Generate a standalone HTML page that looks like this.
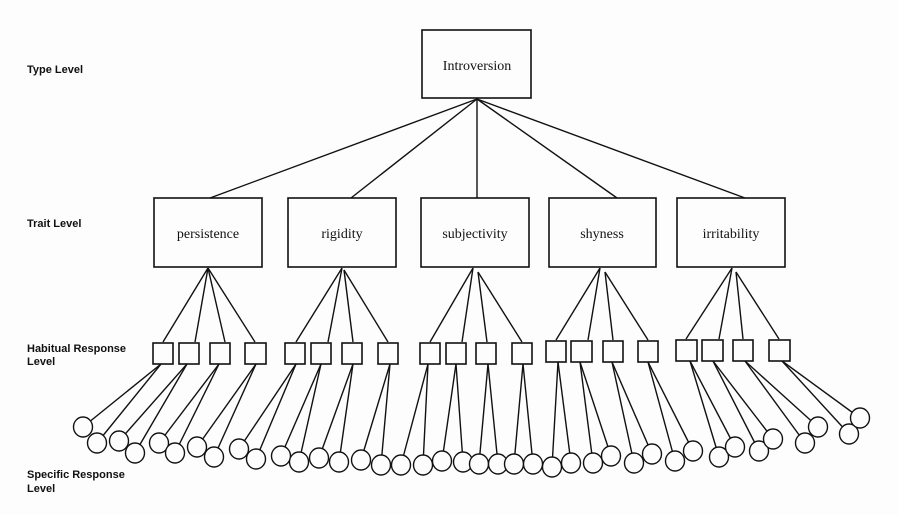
<!DOCTYPE html>
<html><head><style>
html,body{margin:0;padding:0;background:#fdfdfd;}
svg{display:block;}
.lb{font-family:"Liberation Sans",Arial,sans-serif;font-weight:bold;font-size:11px;fill:#111;}
.bx{font-family:"Liberation Serif","Times New Roman",serif;font-size:14px;fill:#111;}
</style></head><body>
<svg width="898" height="515" viewBox="0 0 898 515" xmlns="http://www.w3.org/2000/svg">
<rect width="898" height="515" fill="#fdfdfd"/>
<g class="lb">
<text x="27" y="73">Type Level</text>
<text x="27" y="227">Trait Level</text>
<text x="27" y="352">Habitual Response</text>
<text x="27" y="365">Level</text>
<text x="27" y="478">Specific Response</text>
<text x="27" y="492">Level</text>
</g>
<g stroke="#111" stroke-width="1.4" fill="none">
<line x1="477" y1="99" x2="210" y2="198"/>
<line x1="477" y1="99" x2="351" y2="198"/>
<line x1="477" y1="99" x2="477" y2="198"/>
<line x1="477" y1="99" x2="617" y2="198"/>
<line x1="477" y1="99" x2="745" y2="198"/>
<!-- trait to squares -->
<line x1="208" y1="268" x2="163" y2="342"/><line x1="208" y1="268" x2="195" y2="342"/><line x1="208" y1="268" x2="225" y2="342"/><line x1="208" y1="268" x2="255" y2="342"/>
<line x1="342" y1="268" x2="296" y2="342"/><line x1="342" y1="268" x2="328" y2="342"/><line x1="344" y1="270" x2="353" y2="342"/><line x1="344" y1="270" x2="388" y2="342"/>
<line x1="473" y1="268" x2="430" y2="342"/><line x1="473" y1="268" x2="462" y2="342"/><line x1="478" y1="272" x2="487" y2="342"/><line x1="478" y1="272" x2="522" y2="342"/>
<line x1="600" y1="268" x2="556" y2="340"/><line x1="600" y1="268" x2="588" y2="340"/><line x1="605" y1="272" x2="613" y2="340"/><line x1="605" y1="272" x2="648" y2="340"/>
<line x1="732" y1="268" x2="686" y2="339"/><line x1="732" y1="268" x2="719" y2="339"/><line x1="736" y1="272" x2="743" y2="339"/><line x1="736" y1="272" x2="779" y2="339"/>
<!-- squares to circles -->
<line x1="161" y1="364" x2="83" y2="427"/><line x1="161" y1="364" x2="97" y2="443"/>
<line x1="187" y1="364" x2="119" y2="441"/><line x1="187" y1="364" x2="135" y2="453"/>
<line x1="219" y1="364" x2="159" y2="443"/><line x1="219" y1="364" x2="175" y2="453"/>
<line x1="256" y1="364" x2="197" y2="447"/><line x1="256" y1="364" x2="214" y2="457"/>
<line x1="296" y1="364" x2="239" y2="449"/><line x1="296" y1="364" x2="256" y2="459"/>
<line x1="321" y1="364" x2="281" y2="456"/><line x1="321" y1="364" x2="299" y2="462"/>
<line x1="353" y1="364" x2="319" y2="458"/><line x1="353" y1="364" x2="339" y2="462"/>
<line x1="390" y1="364" x2="361" y2="460"/><line x1="390" y1="364" x2="381" y2="465"/>
<line x1="428" y1="364" x2="401" y2="465"/><line x1="428" y1="364" x2="423" y2="465"/>
<line x1="456" y1="364" x2="442" y2="461"/><line x1="456" y1="364" x2="463" y2="462"/>
<line x1="488" y1="364" x2="479" y2="464"/><line x1="488" y1="364" x2="498" y2="464"/>
<line x1="523" y1="364" x2="514" y2="464"/><line x1="523" y1="364" x2="533" y2="464"/>
<line x1="558" y1="362" x2="552" y2="467"/><line x1="558" y1="362" x2="571" y2="463"/>
<line x1="580" y1="362" x2="593" y2="463"/><line x1="580" y1="362" x2="611" y2="456"/>
<line x1="612" y1="362" x2="634" y2="463"/><line x1="612" y1="362" x2="652" y2="454"/>
<line x1="648" y1="362" x2="675" y2="461"/><line x1="648" y1="362" x2="693" y2="451"/>
<line x1="690" y1="361" x2="719" y2="457"/><line x1="690" y1="361" x2="735" y2="447"/>
<line x1="713" y1="361" x2="759" y2="451"/><line x1="713" y1="361" x2="773" y2="439"/>
<line x1="745" y1="361" x2="805" y2="443"/><line x1="745" y1="361" x2="818" y2="427"/>
<line x1="782" y1="361" x2="849" y2="434"/><line x1="782" y1="361" x2="860" y2="418"/>
</g>
<g stroke="#111" stroke-width="1.6" fill="#fdfdfd">
<rect x="422" y="30" width="109" height="68"/>
<rect x="154" y="198" width="108" height="69"/>
<rect x="288" y="198" width="108" height="69"/>
<rect x="421" y="198" width="108" height="69"/>
<rect x="549" y="198" width="107" height="69"/>
<rect x="677" y="198" width="108" height="69"/>
<rect x="153" y="343" width="20" height="21"/><rect x="179" y="343" width="20" height="21"/><rect x="210" y="343" width="20" height="21"/><rect x="245" y="343" width="21" height="21"/>
<rect x="285" y="343" width="20" height="21"/><rect x="311" y="343" width="20" height="21"/><rect x="342" y="343" width="20" height="21"/><rect x="378" y="343" width="20" height="21"/>
<rect x="420" y="343" width="20" height="21"/><rect x="446" y="343" width="20" height="21"/><rect x="476" y="343" width="20" height="21"/><rect x="512" y="343" width="20" height="21"/>
<rect x="546" y="341" width="20" height="21"/><rect x="571" y="341" width="21" height="21"/><rect x="603" y="341" width="20" height="21"/><rect x="638" y="341" width="20" height="21"/>
<rect x="676" y="340" width="21" height="21"/><rect x="702" y="340" width="21" height="21"/><rect x="733" y="340" width="20" height="21"/><rect x="769" y="340" width="21" height="21"/>
</g>
<g stroke="#111" stroke-width="1.4" fill="#fdfdfd">
<ellipse cx="83" cy="427" rx="9.5" ry="10"/><ellipse cx="97" cy="443" rx="9.5" ry="10"/>
<ellipse cx="119" cy="441" rx="9.5" ry="10"/><ellipse cx="135" cy="453" rx="9.5" ry="10"/>
<ellipse cx="159" cy="443" rx="9.5" ry="10"/><ellipse cx="175" cy="453" rx="9.5" ry="10"/>
<ellipse cx="197" cy="447" rx="9.5" ry="10"/><ellipse cx="214" cy="457" rx="9.5" ry="10"/>
<ellipse cx="239" cy="449" rx="9.5" ry="10"/><ellipse cx="256" cy="459" rx="9.5" ry="10"/>
<ellipse cx="281" cy="456" rx="9.5" ry="10"/><ellipse cx="299" cy="462" rx="9.5" ry="10"/>
<ellipse cx="319" cy="458" rx="9.5" ry="10"/><ellipse cx="339" cy="462" rx="9.5" ry="10"/>
<ellipse cx="361" cy="460" rx="9.5" ry="10"/><ellipse cx="381" cy="465" rx="9.5" ry="10"/>
<ellipse cx="401" cy="465" rx="9.5" ry="10"/><ellipse cx="423" cy="465" rx="9.5" ry="10"/>
<ellipse cx="442" cy="461" rx="9.5" ry="10"/><ellipse cx="463" cy="462" rx="9.5" ry="10"/>
<ellipse cx="479" cy="464" rx="9.5" ry="10"/><ellipse cx="498" cy="464" rx="9.5" ry="10"/>
<ellipse cx="514" cy="464" rx="9.5" ry="10"/><ellipse cx="533" cy="464" rx="9.5" ry="10"/>
<ellipse cx="552" cy="467" rx="9.5" ry="10"/><ellipse cx="571" cy="463" rx="9.5" ry="10"/>
<ellipse cx="593" cy="463" rx="9.5" ry="10"/><ellipse cx="611" cy="456" rx="9.5" ry="10"/>
<ellipse cx="634" cy="463" rx="9.5" ry="10"/><ellipse cx="652" cy="454" rx="9.5" ry="10"/>
<ellipse cx="675" cy="461" rx="9.5" ry="10"/><ellipse cx="693" cy="451" rx="9.5" ry="10"/>
<ellipse cx="719" cy="457" rx="9.5" ry="10"/><ellipse cx="735" cy="447" rx="9.5" ry="10"/>
<ellipse cx="759" cy="451" rx="9.5" ry="10"/><ellipse cx="773" cy="439" rx="9.5" ry="10"/>
<ellipse cx="805" cy="443" rx="9.5" ry="10"/><ellipse cx="818" cy="427" rx="9.5" ry="10"/>
<ellipse cx="849" cy="434" rx="9.5" ry="10"/><ellipse cx="860" cy="418" rx="9.5" ry="10"/>
</g>
<g class="bx" text-anchor="middle">
<text x="477" y="70">Introversion</text>
<text x="208" y="238">persistence</text>
<text x="342" y="238">rigidity</text>
<text x="475" y="238">subjectivity</text>
<text x="602" y="238">shyness</text>
<text x="731" y="238">irritability</text>
</g>
</svg>
</body></html>
